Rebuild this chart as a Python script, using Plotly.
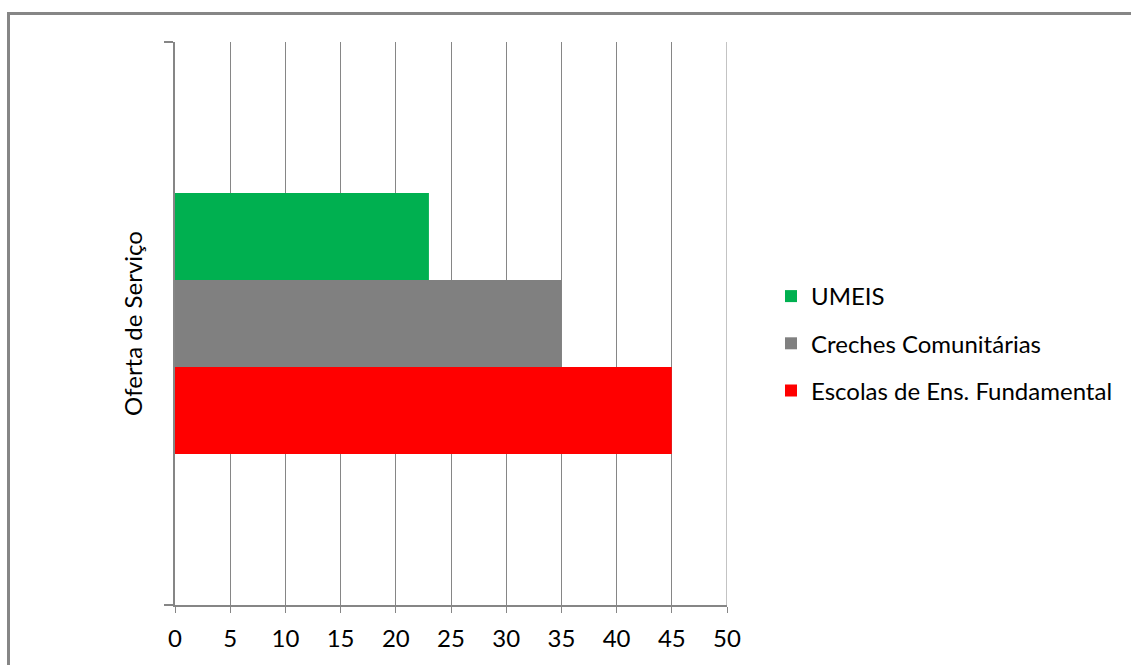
import plotly.graph_objects as go

category = ["Oferta de Serviço"]
series_names = ["UMEIS", "Creches Comunitárias", "Escolas de Ens. Fundamental"]
series_values = [[23], [35], [45]]
series_colors = ["#00B050", "#808080", "#FF0000"]
x_ticks = [0, 5, 10, 15, 20, 25, 30, 35, 40, 45, 50]

W, H = 1131, 665
L, R, T, B = 175, 404, 42, 60
pw, ph = W - L - R, H - T - B

fig = go.Figure()
for name, vals, col in zip(series_names, series_values, series_colors):
    fig.add_trace(go.Bar(
        y=category, x=vals, name=name, orientation="h",
        marker=dict(color=col, line=dict(width=0)),
        legendgroup=name,
    ))

font = "Lato, Carlito, Calibri, sans-serif"
fig.update_layout(
    width=W, height=H,
    margin=dict(l=L, r=R, t=T, b=B, pad=0, autoexpand=False),
    paper_bgcolor="white", plot_bgcolor="white",
    barmode="group", bargap=0.536, bargroupgap=0,
    font=dict(family=font, size=24, color="black"),
    showlegend=True,
    legend=dict(traceorder="grouped", x=(771 - L) / pw, y=(H - B - 343.5) / ph,
                xanchor="left", yanchor="middle",
                tracegroupgap=13, itemwidth=30, font=dict(size=24)),
    xaxis=dict(range=[0, 50], tickvals=x_ticks, ticktext=[str(v) for v in x_ticks],
               showgrid=True, gridcolor="#868686", gridwidth=1,
               showline=True, linecolor="#868686", linewidth=2,
               ticks="outside", ticklen=6, tickcolor="#868686", tickwidth=1,
               ticklabelstandoff=5,
               zeroline=False, tickfont=dict(size=24)),
    yaxis=dict(showticklabels=False, showline=True, linecolor="#868686", linewidth=2,
               autorange="reversed",
               ticks="outside", tickson="boundaries", ticklen=9, tickcolor="#868686", tickwidth=2,
               showgrid=False, zeroline=False,
               title=dict(text="Oferta de Serviço", standoff=24, font=dict(size=24))),
    shapes=[
        dict(type="rect", xref="paper", yref="paper",
             x0=(8.5 - L) / pw, x1=(W + 5 - L) / pw,
             y0=(H - B - (H + 5)) / ph, y1=(H - B - 13.5) / ph,
             line=dict(color="#868686", width=3), fillcolor="rgba(0,0,0,0)", layer="below"),
        dict(type="line", xref="x", yref="paper", x0=x_ticks[-1], x1=x_ticks[-1], y0=0, y1=1,
             line=dict(color="#868686", width=1), layer="below"),
    ],
)
fig.write_html("out.html")
